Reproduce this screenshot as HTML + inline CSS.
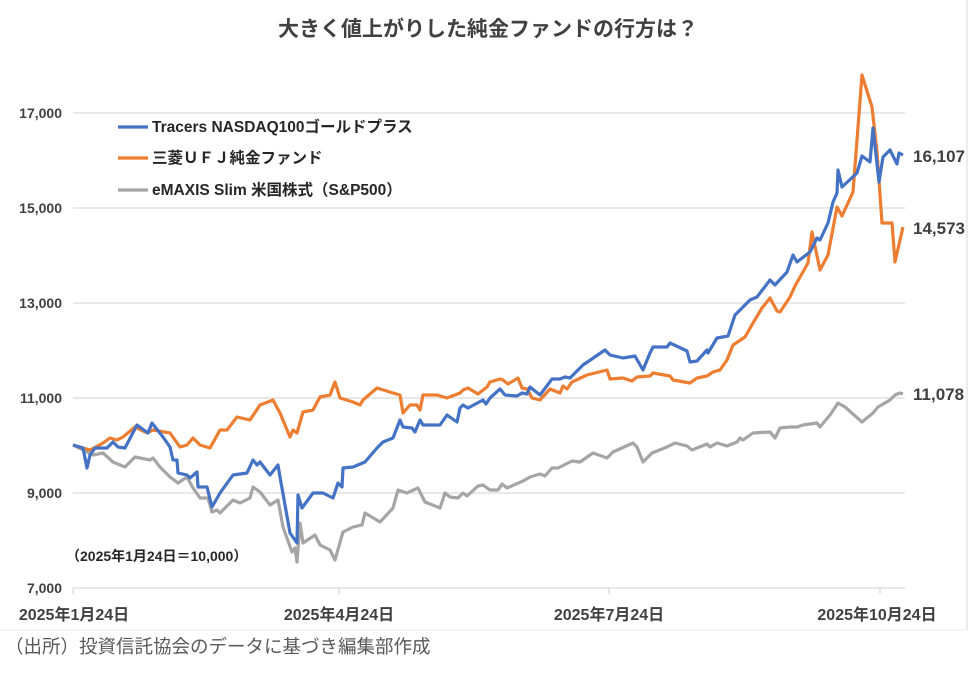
<!DOCTYPE html>
<html><head><meta charset="utf-8"><style>
body{margin:0;background:#fff;}
svg text{font-family:"Liberation Sans","Noto Sans CJK JP",sans-serif;}
</style></head><body>
<svg width="976" height="671" viewBox="0 0 976 671" xmlns="http://www.w3.org/2000/svg">
<rect width="976" height="671" fill="#fff"/>
<line x1="967" y1="0" x2="967" y2="630" stroke="#d9d9d9" stroke-width="1"/>
<line x1="0" y1="630" x2="967" y2="630" stroke="#e8e8e8" stroke-width="1"/>
<text x="488" y="36" text-anchor="middle" font-size="21" font-weight="bold" fill="#404040">大きく値上がりした純金ファンドの行方は？</text>
<g stroke="#d9d9d9" stroke-width="1.3">
<line x1="73" y1="113" x2="905" y2="113"/>
<line x1="73" y1="208" x2="905" y2="208"/>
<line x1="73" y1="303" x2="905" y2="303"/>
<line x1="73" y1="398" x2="905" y2="398"/>
<line x1="73" y1="493" x2="905" y2="493"/>
<line x1="73" y1="588" x2="905" y2="588"/>
<line x1="73" y1="588" x2="73" y2="594"/>
<line x1="339" y1="588" x2="339" y2="594"/>
<line x1="609" y1="588" x2="609" y2="594"/>
<line x1="880" y1="588" x2="880" y2="594"/>
</g>
<g font-size="14" font-weight="bold" fill="#404040" text-anchor="end">
<text x="62" y="118">17,000</text>
<text x="62" y="213">15,000</text>
<text x="62" y="308">13,000</text>
<text x="62" y="403">11,000</text>
<text x="62" y="498">9,000</text>
<text x="62" y="593">7,000</text>
</g>
<g font-size="16" font-weight="bold" fill="#404040" text-anchor="middle">
<text x="74" y="620">2025年1月24日</text>
<text x="339" y="620">2025年4月24日</text>
<text x="609" y="620">2025年7月24日</text>
<text x="877" y="620">2025年10月24日</text>
</g>
<text x="5" y="653" font-size="18.5" fill="#595959">（出所）投資信託協会のデータに基づき編集部作成</text>
<text x="66" y="561" font-size="14" font-weight="bold" fill="#262626">（2025年1月24日＝10,000）</text>
<g fill="none" stroke-width="3.2" stroke-linejoin="round">
<polyline stroke="#a5a5a5" points="73,445 87,452 93,455 103,453 113,462 125,467 135,457 150,460 153,458 160,467 170,477 178,483 187,477 193,488 200,498 208,498 212,512 217,510 220,513 233,500 240,503 250,498 253,487 260,492 270,505 278,500 283,527 292,552 295,548 297,562 300,523 303,543 315,535 320,545 330,550 335,560 343,532 353,527 362,525 365,513 380,522 393,508 398,490 407,493 418,488 425,502 440,508 445,493 450,497 458,498 463,493 467,496 478,486 483,485 490,490 498,490 502,484 507,488 523,481 530,477 540,474 545,476 552,468 558,468 572,461 580,462 593,453 607,458 613,452 633,443 637,447 643,462 652,453 667,447 675,443 687,446 692,450 707,444 710,447 717,443 727,446 737,442 740,438 743,440 753,433 770,432 775,438 780,428 790,427 797,427 803,425 817,423 820,427 830,415 838,403 845,407 862,422 873,413 878,407 890,400 895,395 900,393 903,394"/>
<polyline stroke="#ed7d31" points="73,445 90,450 103,443 110,438 117,440 123,437 135,427 147,433 153,430 170,433 180,447 187,445 193,438 200,445 210,448 220,430 227,430 237,417 250,420 260,405 273,400 280,413 290,437 293,430 297,433 303,412 313,410 320,397 330,395 335,382 340,398 353,402 360,405 363,400 377,388 393,393 400,395 403,413 410,405 417,405 420,410 423,395 437,395 447,398 460,393 463,390 468,388 478,394 487,387 490,382 500,379 503,380 508,384 518,378 522,388 527,389 532,398 540,400 550,389 560,393 563,386 567,389 572,382 587,375 607,370 610,379 623,378 632,381 637,377 650,376 653,373 670,376 673,380 690,383 697,378 707,376 713,372 720,370 727,360 733,345 745,337 753,323 762,308 770,298 777,311 780,312 790,297 795,286 808,263 812,232 820,270 828,255 837,207 842,216 853,192 862,75 872,107 877,152 882,223 892,223 895,262 903,227"/>
<polyline stroke="#4472c4" points="73,445 83,448 87,468 90,455 95,448 107,448 113,442 118,447 125,448 137,425 148,433 152,423 163,437 170,447 173,460 177,460 178,473 187,475 190,478 197,472 198,487 207,487 212,507 220,493 233,475 247,473 253,460 257,465 260,462 270,475 278,465 280,477 290,533 297,543 298,495 302,508 313,493 323,493 333,498 338,483 342,487 343,468 353,467 365,462 377,448 383,442 393,438 400,420 403,427 412,428 415,432 420,420 423,425 440,425 447,415 457,422 460,408 463,405 468,408 483,400 486,404 490,398 500,389 505,395 517,396 522,393 527,394 530,387 540,395 552,379 560,379 565,377 570,378 583,365 605,350 610,355 623,358 635,356 643,370 650,353 653,347 667,347 670,343 687,351 690,362 697,361 707,350 708,353 717,338 728,336 735,315 750,300 757,297 770,280 775,285 787,272 793,255 797,262 810,252 817,238 820,240 828,223 833,202 837,193 838,170 842,187 857,173 862,156 870,162 873,128 879,182 883,157 890,150 897,164 899,153 903,155"/>
</g>
<g font-size="15.5" font-weight="bold" fill="#262626">
<line x1="118" y1="127" x2="148" y2="127" stroke="#4472c4" stroke-width="3.2"/>
<text x="152" y="132">Tracers NASDAQ100ゴールドプラス</text>
<line x1="118" y1="158" x2="148" y2="158" stroke="#ed7d31" stroke-width="3.2"/>
<text x="152" y="163">三菱ＵＦＪ純金ファンド</text>
<line x1="118" y1="190" x2="148" y2="190" stroke="#a5a5a5" stroke-width="3.2"/>
<text x="152" y="195">eMAXIS Slim 米国株式（S&amp;P500）</text>
</g>
<g font-size="17" font-weight="bold" fill="#404040">
<text x="913" y="162">16,107</text>
<text x="913" y="234">14,573</text>
<text x="913" y="400">11,078</text>
</g>
</svg>
</body></html>
